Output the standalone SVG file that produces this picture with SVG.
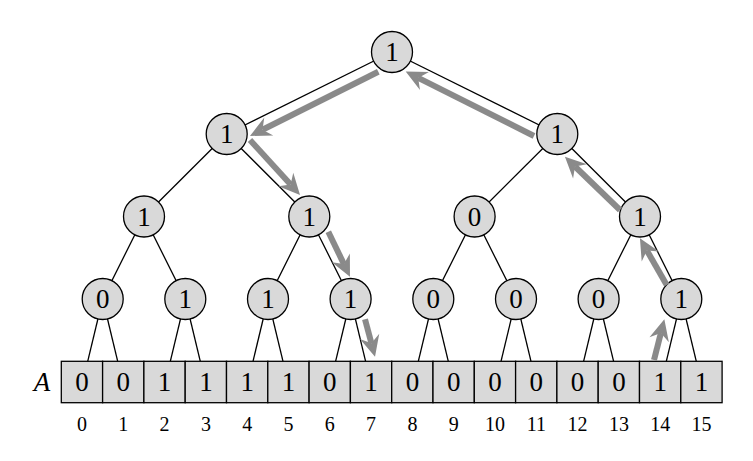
<svg xmlns="http://www.w3.org/2000/svg" width="753" height="461" viewBox="0 0 753 461">
<style>
.edge{stroke:#000;stroke-width:1.3;fill:none}
.node circle{fill:#d9d9d9;stroke:#000;stroke-width:1.3}
.node text,.cell text{font-family:"Liberation Serif","Times New Roman",serif;font-size:27px;text-anchor:middle;fill:#000}
.cell rect{fill:#d9d9d9;stroke:#000;stroke-width:1.3}
.idx{font-family:"Liberation Serif","Times New Roman",serif;font-size:20px;text-anchor:middle;fill:#000}
.path{stroke:#8a8a8a;stroke-width:6;fill:none;marker-end:url(#ah)}
</style>
<defs>
<marker id="ah" markerUnits="userSpaceOnUse" viewBox="-8 -11 24 22" refX="0" refY="0" markerWidth="24" markerHeight="22" orient="auto">
<path d="M-7,-10 L14,0 L-7,10 L0,0 z" fill="#8a8a8a"/>
</marker>
</defs>
<rect width="753" height="461" fill="#fff"/>
<g id="connectors">
<line class="edge" x1="392" y1="52" x2="226.7" y2="134"/>
<line class="edge" x1="392" y1="52" x2="557.3" y2="134"/>
<line class="edge" x1="226.7" y1="134" x2="144" y2="216.5"/>
<line class="edge" x1="226.7" y1="134" x2="309.3" y2="216.5"/>
<line class="edge" x1="557.3" y1="134" x2="474.6" y2="216.5"/>
<line class="edge" x1="557.3" y1="134" x2="640" y2="216.5"/>
<line class="edge" x1="144" y1="216.5" x2="102.7" y2="299"/>
<line class="edge" x1="144" y1="216.5" x2="185.3" y2="299"/>
<line class="edge" x1="309.3" y1="216.5" x2="268" y2="299"/>
<line class="edge" x1="309.3" y1="216.5" x2="350.6" y2="299"/>
<line class="edge" x1="474.6" y1="216.5" x2="433.3" y2="299"/>
<line class="edge" x1="474.6" y1="216.5" x2="516" y2="299"/>
<line class="edge" x1="640" y1="216.5" x2="598.6" y2="299"/>
<line class="edge" x1="640" y1="216.5" x2="681.3" y2="299"/>
<line class="edge" x1="102.7" y1="299" x2="87.7" y2="361.3"/>
<line class="edge" x1="102.7" y1="299" x2="117.7" y2="361.3"/>
<line class="edge" x1="185.3" y1="299" x2="170.3" y2="361.3"/>
<line class="edge" x1="185.3" y1="299" x2="200.3" y2="361.3"/>
<line class="edge" x1="268" y1="299" x2="253" y2="361.3"/>
<line class="edge" x1="268" y1="299" x2="283" y2="361.3"/>
<line class="edge" x1="350.6" y1="299" x2="335.6" y2="361.3"/>
<line class="edge" x1="350.6" y1="299" x2="365.6" y2="361.3"/>
<line class="edge" x1="433.3" y1="299" x2="418.3" y2="361.3"/>
<line class="edge" x1="433.3" y1="299" x2="448.3" y2="361.3"/>
<line class="edge" x1="516" y1="299" x2="501" y2="361.3"/>
<line class="edge" x1="516" y1="299" x2="531" y2="361.3"/>
<line class="edge" x1="598.6" y1="299" x2="583.6" y2="361.3"/>
<line class="edge" x1="598.6" y1="299" x2="613.6" y2="361.3"/>
<line class="edge" x1="681.3" y1="299" x2="666.3" y2="361.3"/>
<line class="edge" x1="681.3" y1="299" x2="696.3" y2="361.3"/>
</g>
<g id="nodes">
<g id="n1" class="node"><circle cx="392" cy="52" r="20.5"/><text x="392" y="61">1</text></g>
<g id="n2" class="node"><circle cx="226.7" cy="134" r="20.5"/><text x="226.7" y="143">1</text></g>
<g id="n3" class="node"><circle cx="557.3" cy="134" r="20.5"/><text x="557.3" y="143">1</text></g>
<g id="n4" class="node"><circle cx="144" cy="216.5" r="20.5"/><text x="144" y="225.5">1</text></g>
<g id="n5" class="node"><circle cx="309.3" cy="216.5" r="20.5"/><text x="309.3" y="225.5">1</text></g>
<g id="n6" class="node"><circle cx="474.6" cy="216.5" r="20.5"/><text x="474.6" y="225.5">0</text></g>
<g id="n7" class="node"><circle cx="640" cy="216.5" r="20.5"/><text x="640" y="225.5">1</text></g>
<g id="n8" class="node"><circle cx="102.7" cy="299" r="20.5"/><text x="102.7" y="308">0</text></g>
<g id="n9" class="node"><circle cx="185.3" cy="299" r="20.5"/><text x="185.3" y="308">1</text></g>
<g id="n10" class="node"><circle cx="268" cy="299" r="20.5"/><text x="268" y="308">1</text></g>
<g id="n11" class="node"><circle cx="350.6" cy="299" r="20.5"/><text x="350.6" y="308">1</text></g>
<g id="n12" class="node"><circle cx="433.3" cy="299" r="20.5"/><text x="433.3" y="308">0</text></g>
<g id="n13" class="node"><circle cx="516" cy="299" r="20.5"/><text x="516" y="308">0</text></g>
<g id="n14" class="node"><circle cx="598.6" cy="299" r="20.5"/><text x="598.6" y="308">0</text></g>
<g id="n15" class="node"><circle cx="681.3" cy="299" r="20.5"/><text x="681.3" y="308">1</text></g>
</g>
<g id="array">
<text x="42" y="391" style="font-family:'Liberation Serif','Times New Roman',serif;font-size:27px;font-style:italic;text-anchor:middle">A</text>
<g class="cell"><rect x="61.3" y="361.3" width="41.3" height="41.4"/><text x="82" y="391">0</text></g>
<g class="cell"><rect x="102.6" y="361.3" width="41.3" height="41.4"/><text x="123.3" y="391">0</text></g>
<g class="cell"><rect x="143.9" y="361.3" width="41.3" height="41.4"/><text x="164.6" y="391">1</text></g>
<g class="cell"><rect x="185.2" y="361.3" width="41.3" height="41.4"/><text x="205.9" y="391">1</text></g>
<g class="cell"><rect x="226.5" y="361.3" width="41.3" height="41.4"/><text x="247.2" y="391">1</text></g>
<g class="cell"><rect x="267.8" y="361.3" width="41.3" height="41.4"/><text x="288.5" y="391">1</text></g>
<g class="cell"><rect x="309.1" y="361.3" width="41.3" height="41.4"/><text x="329.8" y="391">0</text></g>
<g class="cell"><rect x="350.4" y="361.3" width="41.3" height="41.4"/><text x="371.1" y="391">1</text></g>
<g class="cell"><rect x="391.7" y="361.3" width="41.3" height="41.4"/><text x="412.4" y="391">0</text></g>
<g class="cell"><rect x="433" y="361.3" width="41.3" height="41.4"/><text x="453.7" y="391">0</text></g>
<g class="cell"><rect x="474.3" y="361.3" width="41.3" height="41.4"/><text x="495" y="391">0</text></g>
<g class="cell"><rect x="515.6" y="361.3" width="41.3" height="41.4"/><text x="536.3" y="391">0</text></g>
<g class="cell"><rect x="556.9" y="361.3" width="41.3" height="41.4"/><text x="577.6" y="391">0</text></g>
<g class="cell"><rect x="598.2" y="361.3" width="41.3" height="41.4"/><text x="618.9" y="391">0</text></g>
<g class="cell"><rect x="639.5" y="361.3" width="41.3" height="41.4"/><text x="660.2" y="391">1</text></g>
<g class="cell"><rect x="680.8" y="361.3" width="41.3" height="41.4"/><text x="701.5" y="391">1</text></g>
<text class="idx" x="82" y="430.5">0</text>
<text class="idx" x="123.3" y="430.5">1</text>
<text class="idx" x="164.6" y="430.5">2</text>
<text class="idx" x="205.9" y="430.5">3</text>
<text class="idx" x="247.2" y="430.5">4</text>
<text class="idx" x="288.5" y="430.5">5</text>
<text class="idx" x="329.8" y="430.5">6</text>
<text class="idx" x="371.1" y="430.5">7</text>
<text class="idx" x="412.4" y="430.5">8</text>
<text class="idx" x="453.7" y="430.5">9</text>
<text class="idx" x="495" y="430.5">10</text>
<text class="idx" x="536.3" y="430.5">11</text>
<text class="idx" x="577.6" y="430.5">12</text>
<text class="idx" x="618.9" y="430.5">13</text>
<text class="idx" x="660.2" y="430.5">14</text>
<text class="idx" x="701.5" y="430.5">15</text>
</g>
<g id="search-path">
<line class="path" x1="378.3" y1="71.7" x2="262.5" y2="129.7"/>
<line class="path" x1="250" y1="140" x2="290.6" y2="184.6"/>
<line class="path" x1="328.3" y1="231.7" x2="343.9" y2="264.1"/>
<line class="path" x1="365" y1="319.3" x2="371.4" y2="343.2"/>
<line class="path" x1="654" y1="360" x2="660.9" y2="332.9"/>
<line class="path" x1="666.7" y1="285" x2="646.9" y2="250.5"/>
<line class="path" x1="620" y1="210" x2="575" y2="166.5"/>
<line class="path" x1="534" y1="136" x2="418.2" y2="77.9"/>
</g>
</svg>
